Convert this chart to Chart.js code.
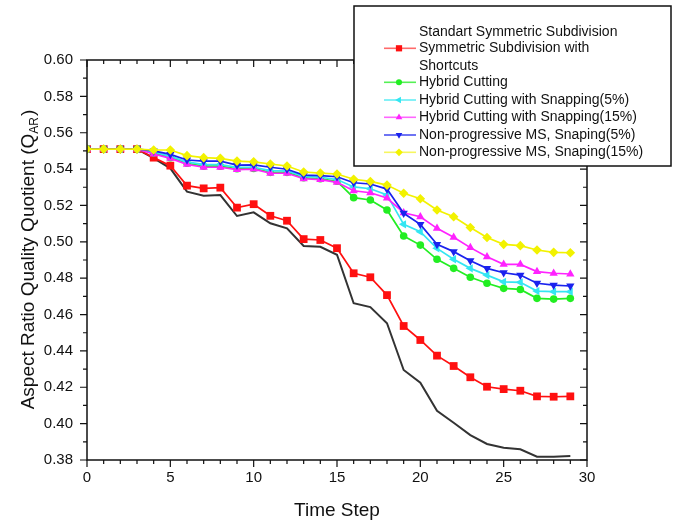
<!DOCTYPE html>
<html><head><meta charset="utf-8">
<script src="https://cdn.jsdelivr.net/npm/chart.js@4/dist/chart.umd.min.js"></script>
<style>html,body{margin:0;padding:0;background:#fff}canvas{display:block}</style>
</head><body>
<canvas id="c" width="677" height="524"></canvas>
<script>
const timeSteps = Array.from({length: 30}, (_, i) => i);
const xTickLabels = [0, 5, 10, 15, 20, 25, 30];
const yTickLabels = ['0.38','0.40','0.42','0.44','0.46','0.48','0.50','0.52','0.54','0.56','0.58','0.60'];

const standartSymmetric = [0.551,0.551,0.551,0.551,0.546,0.5404,0.5276,0.5254,0.5257,0.5142,0.5162,0.5102,0.5074,0.4977,0.4973,0.4929,0.4662,0.4641,0.4552,0.4295,0.4225,0.4071,0.4005,0.3937,0.3888,0.3868,0.3859,0.3818,0.3818,0.3822];
const symmetricShortcuts = [0.551,0.551,0.551,0.551,0.5463,0.5419,0.5309,0.5294,0.5298,0.5188,0.5207,0.5143,0.5116,0.5015,0.5010,0.4965,0.4827,0.4805,0.4707,0.4537,0.4460,0.4374,0.4317,0.4255,0.4203,0.4190,0.4181,0.4150,0.4148,0.4150];
const hybridCutting = [0.551,0.551,0.551,0.551,0.5488,0.5463,0.5432,0.5416,0.5416,0.5402,0.5403,0.5382,0.5382,0.5352,0.5347,0.5333,0.5243,0.5230,0.5175,0.5032,0.4982,0.4904,0.4854,0.4805,0.4772,0.4744,0.4738,0.4689,0.4685,0.4689];
const hybridSnap5 = [0.551,0.551,0.551,0.551,0.5495,0.5470,0.5440,0.5425,0.5425,0.5410,0.5410,0.5392,0.5390,0.5360,0.5355,0.5343,0.5302,0.5292,0.5258,0.5096,0.5056,0.4964,0.4904,0.4854,0.4817,0.4780,0.4777,0.4729,0.4726,0.4726];
const hybridSnap15 = [0.551,0.551,0.551,0.551,0.5483,0.5459,0.5426,0.5410,0.5410,0.5397,0.5400,0.5377,0.5377,0.5347,0.5342,0.5327,0.5281,0.5270,0.5241,0.5160,0.5138,0.5074,0.5025,0.4968,0.4918,0.4876,0.4876,0.4836,0.4827,0.4823];
const nonProgSnap5 = [0.551,0.551,0.551,0.551,0.5500,0.5481,0.5450,0.5444,0.5444,0.5422,0.5423,0.5410,0.5399,0.5367,0.5364,0.5358,0.5325,0.5318,0.5290,0.5157,0.5096,0.4986,0.4946,0.4896,0.4854,0.4830,0.4817,0.4772,0.4762,0.4757];
const nonProgSnap15 = [0.551,0.551,0.551,0.551,0.5505,0.5505,0.5474,0.5463,0.5459,0.5444,0.5440,0.5428,0.5417,0.5384,0.5378,0.5373,0.5344,0.5332,0.5312,0.5267,0.5237,0.5175,0.5138,0.5079,0.5024,0.4986,0.4979,0.4955,0.4942,0.4940];

const seriesNames = ['Standart Symmetric Subdivision','Symmetric Subdivision with\nShortcuts','Hybrid Cutting','Hybrid Cutting with Snapping(5%)','Hybrid Cutting with Snapping(15%)','Non-progressive MS, Snaping(5%)','Non-progressive MS, Snaping(15%)'];
const seriesValues = [standartSymmetric, symmetricShortcuts, hybridCutting, hybridSnap5, hybridSnap15, nonProgSnap5, nonProgSnap15];
const seriesColors = ['#333333','#ff1010','#22ee22','#33e6f2','#ff22ff','#1a22ee','#f2f200'];
const legendLineColors = ['#333333','#ff6a6a','#55f055','#66eef6','#ff66ff','#4a52f0','#f6f660'];
const seriesPoint = [false,'rect','circle','triangle','triangle','triangle','rectRot'];
const seriesRot = [0,0,0,-90,0,180,0];
const seriesRadius = [0,5.5,3.8,4.8,4.8,4.8,4.8];
const seriesOrder = [6,5,4,3,2,1,0];

const FONT = '"Liberation Sans", Arial, sans-serif';

const datasets = seriesValues.map((vals, k) => ({
  label: seriesNames[k],
  data: vals.map((v, i) => ({x: timeSteps[i], y: v})),
  borderColor: seriesColors[k],
  backgroundColor: seriesColors[k],
  borderWidth: k === 0 ? 2 : 1.7,
  pointStyle: seriesPoint[k],
  pointRadius: seriesRadius[k],
  pointRotation: seriesRot[k],
  pointBorderWidth: 0,
  pointBackgroundColor: seriesColors[k],
  order: seriesOrder[k],
  tension: 0
}));

const decor = {
  id: 'decor',
  afterDraw(chart) {
    const ctx = chart.ctx, a = chart.chartArea;
    const xs = chart.scales.x, ys = chart.scales.y;
    ctx.save();
    ctx.strokeStyle = '#111'; ctx.lineWidth = 1.5;
    ctx.strokeRect(a.left, a.top, a.right - a.left, a.bottom - a.top);
    ctx.lineWidth = 1.2;
    for (let v = xs.min; v <= xs.max + 1e-9; v += 1) {
      const px = xs.getPixelForValue(v);
      const L = v % 5 === 0 ? 7 : 4;
      ctx.beginPath();
      ctx.moveTo(px, a.bottom); ctx.lineTo(px, a.bottom + L);
      ctx.moveTo(px, a.top); ctx.lineTo(px, a.top + L);
      ctx.stroke();
    }
    for (let j = 0; j <= 22; j++) {
      const py = ys.getPixelForValue(ys.min + j * 0.01);
      const L = j % 2 === 0 ? 7 : 4;
      ctx.beginPath();
      ctx.moveTo(a.left, py); ctx.lineTo(a.left - L, py);
      ctx.moveTo(a.right, py); ctx.lineTo(a.right - L, py);
      ctx.stroke();
    }
    ctx.fillStyle = '#111';
    ctx.font = '19px ' + FONT;
    ctx.textAlign = 'center'; ctx.textBaseline = 'middle';
    ctx.fillText('Time Step', (a.left + a.right) / 2, 511);
    ctx.save();
    ctx.translate(27, (a.top + a.bottom) / 2);
    ctx.rotate(-Math.PI / 2);
    const t1 = 'Aspect Ratio Quality Quotient (Q', t2 = 'AR', t3 = ')';
    ctx.font = '19px ' + FONT;
    const w1 = ctx.measureText(t1).width, w3 = ctx.measureText(t3).width;
    ctx.font = '12px ' + FONT;
    const w2 = ctx.measureText(t2).width;
    const sx = -(w1 + w2 + w3) / 2;
    ctx.textAlign = 'left'; ctx.textBaseline = 'alphabetic';
    ctx.font = '19px ' + FONT;
    ctx.fillText(t1, sx, 7);
    ctx.font = '12px ' + FONT;
    ctx.fillText(t2, sx + w1, 11);
    ctx.font = '19px ' + FONT;
    ctx.fillText(t3, sx + w1 + w2 + 1, 7);
    ctx.restore();
    const bx = 354, by = 6, bw = 317, bh = 160;
    ctx.fillStyle = '#fff';
    ctx.fillRect(bx, by, bw, bh);
    ctx.strokeStyle = '#111'; ctx.lineWidth = 1.5;
    ctx.strokeRect(bx, by, bw, bh);
    const rows = [];
    seriesNames.forEach((name, k) => {
      name.split('\n').forEach((line, li) => rows.push({text: line, k: k, sym: li === 0 && k > 0}));
    });
    const rowY = [31.7, 48.3, 65.7, 82.3, 100, 117.3, 135, 152.3];
    rows.forEach((r, idx) => {
      const y = rowY[idx];
      ctx.fillStyle = '#111';
      ctx.font = '14px ' + FONT;
      ctx.textAlign = 'left'; ctx.textBaseline = 'middle';
      ctx.fillText(r.text, 419, y);
      if (r.sym) {
        ctx.strokeStyle = legendLineColors[r.k]; ctx.lineWidth = 1.6;
        ctx.beginPath(); ctx.moveTo(384, y); ctx.lineTo(416, y); ctx.stroke();
        ctx.fillStyle = seriesColors[r.k];
        Chart.helpers.drawPoint(ctx, {pointStyle: seriesPoint[r.k], rotation: seriesRot[r.k], radius: seriesRadius[r.k] * 0.8, borderWidth: 0}, 399, y);
      }
    });
    ctx.restore();
  }
};

new Chart(document.getElementById('c'), {
  type: 'line',
  data: {datasets},
  options: {
    responsive: false,
    animation: false,
    layout: {padding: {top: 60, right: 90, left: 0, bottom: 0}},
    plugins: {legend: {display: false}, tooltip: {enabled: false}},
    scales: {
      x: {
        type: 'linear', min: 0, max: 30,
        afterFit: s => { s.height = 64; },
        afterBuildTicks: s => { s.ticks = xTickLabels.map(v => ({value: v})); },
        ticks: {color: '#111', font: {family: FONT, size: 15}, padding: 9, maxRotation: 0, autoSkip: false},
        grid: {display: false, drawTicks: false},
        border: {display: false}
      },
      y: {
        type: 'linear', min: 0.38, max: 0.60,
        afterFit: s => { s.width = 87; },
        afterBuildTicks: s => { s.ticks = yTickLabels.map(v => ({value: parseFloat(v)})); },
        ticks: {color: '#111', font: {family: FONT, size: 15}, padding: 14, autoSkip: false, callback: v => v.toFixed(2)},
        grid: {display: false, drawTicks: false},
        border: {display: false}
      }
    }
  },
  plugins: [decor]
});
</script>
</body></html>
